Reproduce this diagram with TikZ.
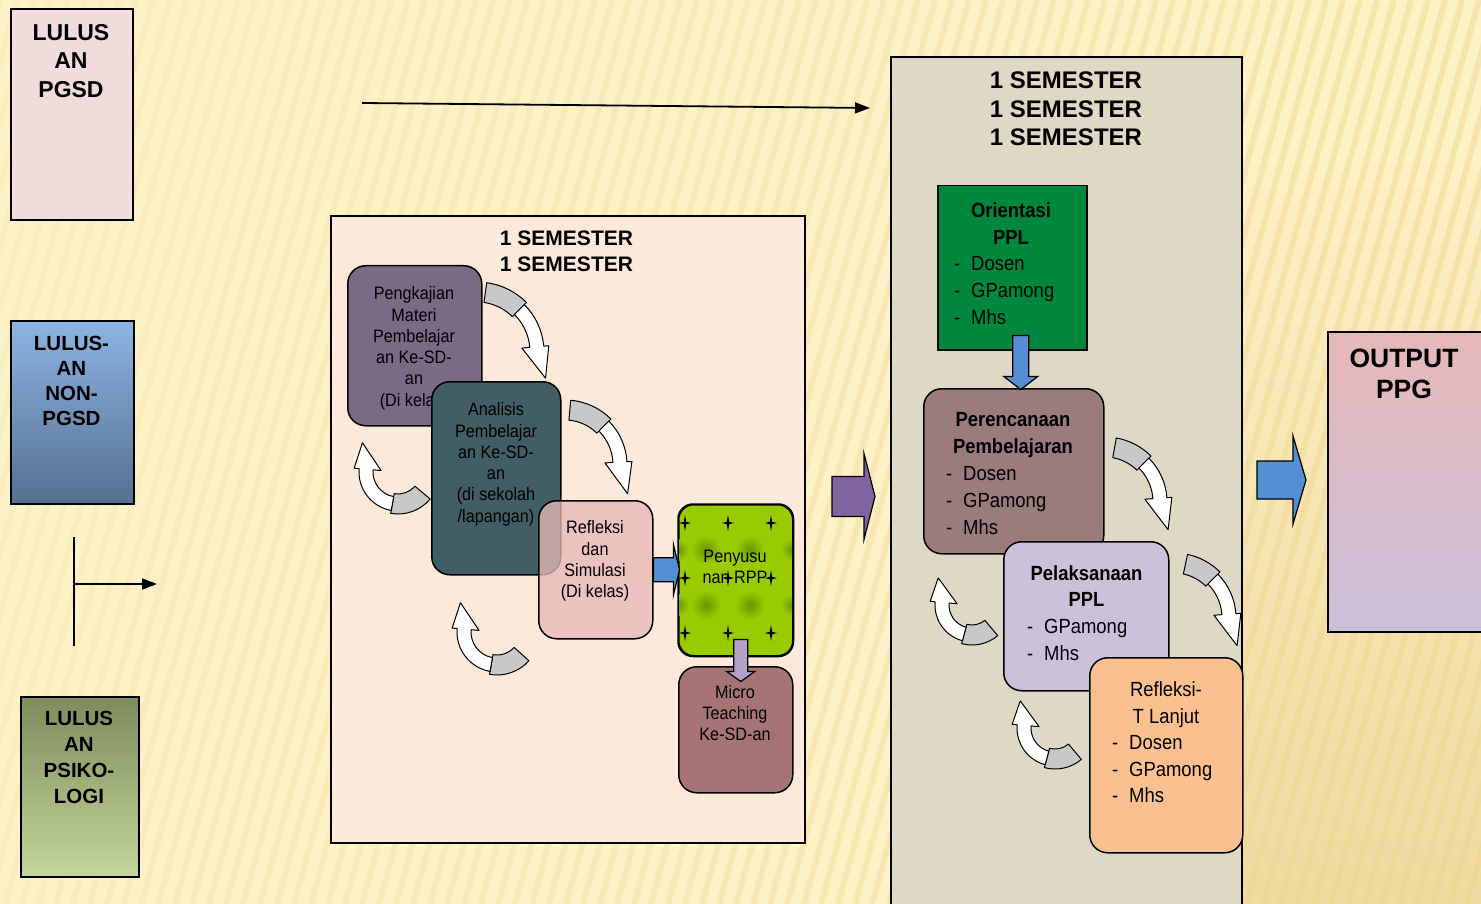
\documentclass[tikz,border=0pt]{standalone}
\usepackage{fontspec}
\setmainfont{Liberation Sans}
\newfontfamily\narrowf[FakeStretch=0.9]{Liberation Sans}
\usetikzlibrary{calc,arrows.meta}
\definecolor{bgbase}{HTML}{FDF1C6}
\definecolor{bgstripe}{HTML}{EFD68E}
\definecolor{bgtan}{HTML}{ECD596}
\definecolor{pgsdfill}{HTML}{F2DCDB}
\definecolor{nonTop}{HTML}{8DB4E3}
\definecolor{nonBot}{HTML}{557090}
\definecolor{psiTop}{HTML}{7E8C5D}
\definecolor{psiBot}{HTML}{C3D69B}
\definecolor{midfill}{HTML}{FDE9D9}
\definecolor{pengfill}{HTML}{7A6A86}
\definecolor{analfill}{HTML}{405E64}
\definecolor{reflfill}{HTML}{E6B8B7}
\definecolor{penyfill}{HTML}{99CC00}
\definecolor{penydark}{HTML}{6A9600}
\definecolor{microfill}{HTML}{A67474}
\definecolor{rightfill}{HTML}{DDD9C4}
\definecolor{orifill}{HTML}{00873E}
\definecolor{perenfill}{HTML}{9B7B7B}
\definecolor{pelakfill}{HTML}{CCC1DA}
\definecolor{refltfill}{HTML}{FAC08F}
\definecolor{outTop}{HTML}{E6B9B8}
\definecolor{outBot}{HTML}{CCC0DA}
\definecolor{purparr}{HTML}{8064A2}
\definecolor{bluearr}{HTML}{558ED5}
\definecolor{lavarr}{HTML}{B3A2C7}
\definecolor{curvgrayc}{HTML}{C8C8C8}
\newcommand\dashitem{\makebox[17pt][l]{-}}
% name, cx, cy, r, start angle, gray end angle, end angle, head length
\newcommand\curvarr[8]{%
 \begin{scope}[shift={(#2,#3)}]
 \coordinate (#1) at (0,0);
 \pgfmathsetmacro\tipx{(#4+6)*cos(#7)+#8*cos(#7+90)}%
 \pgfmathsetmacro\tipy{(#4+6)*sin(#7)+#8*sin(#7+90)}%
 \filldraw[curvgray] ({#5}:{#4+10}) arc[start angle=#5, end angle=#6, radius=#4+10] -- ({#6}:{#4-10}) arc[start angle=#6, end angle=#5, radius=#4-10] -- cycle;
 \filldraw[curvwhite] ({#6}:{#4+7}) arc[start angle=#6, end angle=#7, radius=#4+7] -- ({#7}:{#4+12}) -- (\tipx,\tipy) -- ({#7}:{#4-15}) -- ({#7}:{#4-7}) arc[start angle=#7, end angle=#6, radius=#4-7] -- cycle;
 \end{scope}}
\newcommand\fourstar[2]{\fill[black] (#1,#2) ++(0,-8) -- ++(1.2,6.8) -- ++(4.8,1.2) -- ++(-4.8,1.2) -- ++(-1.2,6.8) -- ++(-1.2,-6.8) -- ++(-4.8,-1.2) -- ++(4.8,-1.2) -- cycle;}
\begin{document}
\begin{tikzpicture}[x=1pt,y=-1pt,
 sqbox/.style={draw=black, line width=2pt, inner sep=0pt, anchor=north west},
 rbox/.style={draw=black, line width=1.5pt, rounded corners=18pt, inner sep=0pt, anchor=north west},
 txt/.style={inner sep=0pt, align=center, anchor=north},
 lst/.style={inner sep=0pt, align=left, anchor=north west},
 midf/.style={font=\narrowf\fontsize{18}{21.3}\selectfont},
 rightf/.style={font=\narrowf\fontsize{20.5}{26.6}\selectfont},
 rightb/.style={font=\narrowf\bfseries\fontsize{20.5}{26.6}\selectfont},
 conn/.style={draw=black, line width=1.8pt, -{Triangle[length=15pt,width=11pt]}},
 blockarr/.style={draw=black, line width=1.2pt, line join=miter},
 curvgray/.style={fill=curvgrayc, draw=black, line width=1pt, line join=round},
 curvwhite/.style={fill=white, draw=black, line width=1pt, line join=round}]
\useasboundingbox (0,0) rectangle (1481,904);
% background
\fill[bgbase] (0,0) rectangle (1481,904);
\shade[top color=bgbase, bottom color=bgtan, opacity=0.8] (1241,150) rectangle (1481,904);
\foreach \i in {0,...,104}{
  \pgfmathsetmacro\op{0.12+0.40*\i/104}
  \draw[bgstripe, line width=6pt, opacity=\op] ({\i*17-250},904) -- ({\i*17},0);
}
% left boxes
\node[sqbox, fill=pgsdfill, minimum width=122pt, minimum height=211pt] (pgsd) at (10,8) {};
\node[txt, font=\bfseries\fontsize{23}{28.5}\selectfont] (pgsdt) at (71,24) {LULUS\\AN\\PGSD};
\node[sqbox, top color=nonTop, bottom color=nonBot, minimum width=123pt, minimum height=183pt] (non) at (10,320) {};
\node[txt, font=\bfseries\fontsize{20.5}{25.3}\selectfont] (nont) at (71.5,335.5) {LULUS-\\AN\\NON-\\PGSD};
\node[sqbox, top color=psiTop, bottom color=psiBot, minimum width=118pt, minimum height=180pt] (psi) at (20,696) {};
\node[txt, font=\bfseries\fontsize{20.5}{26}\selectfont] (psit) at (79,711) {LULUS\\AN\\PSIKO-\\LOGI};
% free connectors
\coordinate (topA) at (362,103);
\coordinate (topB) at (870,108);
\draw[conn] (topA) -- (topB);
\coordinate (tTop) at (74,537);
\coordinate (tBot) at (74,646);
\coordinate (tMid) at (74,584);
\coordinate (tEnd) at (157,584);
\draw[line width=1.8pt] (tTop) -- (tBot);
\draw[conn] (tMid) -- (tEnd);
% middle box
\node[sqbox, fill=midfill, minimum width=474pt, minimum height=627pt] (mid) at (330,215) {};
\node[txt, font=\bfseries\fontsize{21}{26}\selectfont] (midt) at (566.5,230.5) {1 SEMESTER\\1 SEMESTER};
\node[rbox, fill=pengfill, minimum width=134pt, minimum height=160pt] (peng) at (347,265) {};
\node[txt, midf] (pengt) at (414,286.5) {Pengkajian\\Materi\\Pembelajar\\an Ke-SD-\\an\\(Di kelas)};
\node[rbox, fill=analfill, minimum width=129pt, minimum height=193pt] (anal) at (431,381) {};
\node[txt, midf] (analt) at (496,402.5) {Analisis\\Pembelajar\\an Ke-SD-\\an\\(di sekolah\\/lapangan)};
\node[rbox, fill=reflfill, fill opacity=0.78, minimum width=114pt, minimum height=138pt] (refl) at (538,500) {};
\node[txt, midf] (reflt) at (595,520.5) {Refleksi\\dan\\Simulasi\\(Di kelas)};
\node[rbox, rounded corners=15pt, fill=penyfill, minimum width=114pt, minimum height=151pt] (peny) at (678,504) {};
\begin{scope}
  \clip[rounded corners=15pt] (678,504) rectangle (792,655);
  \foreach \px in {706,750}{\foreach \py in {550,605}{
    \shade[inner color=penydark, outer color=penyfill] (\px,\py) circle (15);}}
  \foreach \px in {678,792}{\foreach \py in {550,605}{
    \shade[inner color=penydark, outer color=penyfill] (\px,\py) circle (11);}}
\end{scope}
\draw[line width=1.5pt, rounded corners=15pt] (peny.north west) rectangle (peny.south east);
\foreach \sx in {685,728,771}{\foreach \sy in {523,578,633}{\fourstar{\sx}{\sy}}}
\node[txt, midf] (penyt) at (735,549.5) {Penyusu\\nan RPP};
\node[rbox, fill=microfill, minimum width=114pt, minimum height=126pt] (micro) at (678,666) {};
\node[txt, midf] (microt) at (735,685) {Micro\\Teaching\\Ke-SD-an};
% block arrows in middle box
\fill[bluearr, blockarr] (refl.east) ++(0,-12) -- ++(20,0) -- ++(0,-13) -- ++(6,25) -- ++(-6,25) -- ++(0,-13) -- ++(-20,0) -- cycle;
\coordinate (lavS) at ($(peny.south)+(5,-17)$);
\fill[lavarr, blockarr] (lavS) ++(-7,0) -- ++(0,32) -- ++(-7,0) -- ++(14,10) -- ++(14,-10) -- ++(-7,0) -- ++(0,-32) -- cycle;
% curved arrows middle
\curvarr{ca1}{477}{352}{60}{-82}{-45}{-5}{32}
\curvarr{ca2}{565}{465}{55}{-85}{-45}{-3}{32}
\curvarr{ca3}{398}{472}{32}{40}{100}{185}{26}
\curvarr{ca4}{497}{632}{33}{42}{100}{185}{26}
% purple arrow
\coordinate (pA) at ($(mid.east)+(26,-33)$);
\fill[purparr, blockarr] (pA) ++(0,-20) -- ++(32,0) -- ++(0,-23) -- ++(11,43) -- ++(-11,43) -- ++(0,-23) -- ++(-32,0) -- cycle;
% right box
\node[sqbox, fill=rightfill, minimum width=351pt, minimum height=862pt] (rbx) at (890,56) {};
\node[txt, font=\bfseries\fontsize{24}{28.7}\selectfont] (rbxt) at (1066,71.5) {1 SEMESTER\\1 SEMESTER\\1 SEMESTER};
\node[sqbox, line width=1.5pt, fill=orifill, minimum width=149pt, minimum height=164pt] (ori) at (937,185) {};
\node[txt, rightb] (orih) at (1011,202.6) {Orientasi\\PPL};
\node[lst, rightf] (oril) at (954,256.6) {\dashitem Dosen\\\dashitem GPamong\\\dashitem Mhs};
\node[rbox, fill=perenfill, minimum width=180pt, minimum height=165pt] (peren) at (923,388) {};
\node[txt, rightb] (perenh) at (1013,412.6) {Perencanaan\\Pembelajaran};
\node[lst, rightf] (perenl) at (946,466.6) {\dashitem Dosen\\\dashitem GPamong\\\dashitem Mhs};
\coordinate (bdS) at ($(ori.south)+(8.5,-15)$);
\fill[bluearr, blockarr] (bdS) ++(-8,0) -- ++(0,41) -- ++(-9,0) -- ++(17,13) -- ++(17,-13) -- ++(-9,0) -- ++(0,-41) -- cycle;
\node[rbox, fill=pelakfill, minimum width=165pt, minimum height=149pt] (pelak) at (1003,541) {};
\node[txt, rightb] (pelakh) at (1086.5,565.3) {Pelaksanaan\\PPL};
\node[lst, rightf] (pelakl) at (1027,619.3) {\dashitem GPamong\\\dashitem Mhs};
\node[rbox, fill=refltfill, minimum width=153pt, minimum height=195pt] (reflT) at (1089,657) {};
\node[txt, rightf] (reflTh) at (1166,681.6) {Refleksi-\\T Lanjut};
\node[lst, rightf] (reflTl) at (1112,735.3) {\dashitem Dosen\\\dashitem GPamong\\\dashitem Mhs};
% curved arrows right
\curvarr{ca5}{1105}{502}{55}{-80}{-45}{-4}{32}
\curvarr{ca6}{1174}{618}{55}{-78}{-45}{-4}{32}
\curvarr{ca7}{972}{605}{30}{50}{105}{185}{24}
\curvarr{ca8}{1055}{728}{31}{50}{105}{185}{24}
% output
\node[sqbox, top color=outTop, bottom color=outBot, minimum width=170pt, minimum height=300pt] (outp) at (1327,331) {};
\node[txt, font=\bfseries\fontsize{26.5}{31}\selectfont] (outpt) at (1404,349) {OUTPUT\\PPG};
\coordinate (bA) at ($(outp.west)+(-70,-2)$);
\fill[bluearr, blockarr] (bA) ++(0,-19) -- ++(36,0) -- ++(0,-25) -- ++(13,44) -- ++(-13,44) -- ++(0,-25) -- ++(-36,0) -- cycle;
\end{tikzpicture}
\end{document}
